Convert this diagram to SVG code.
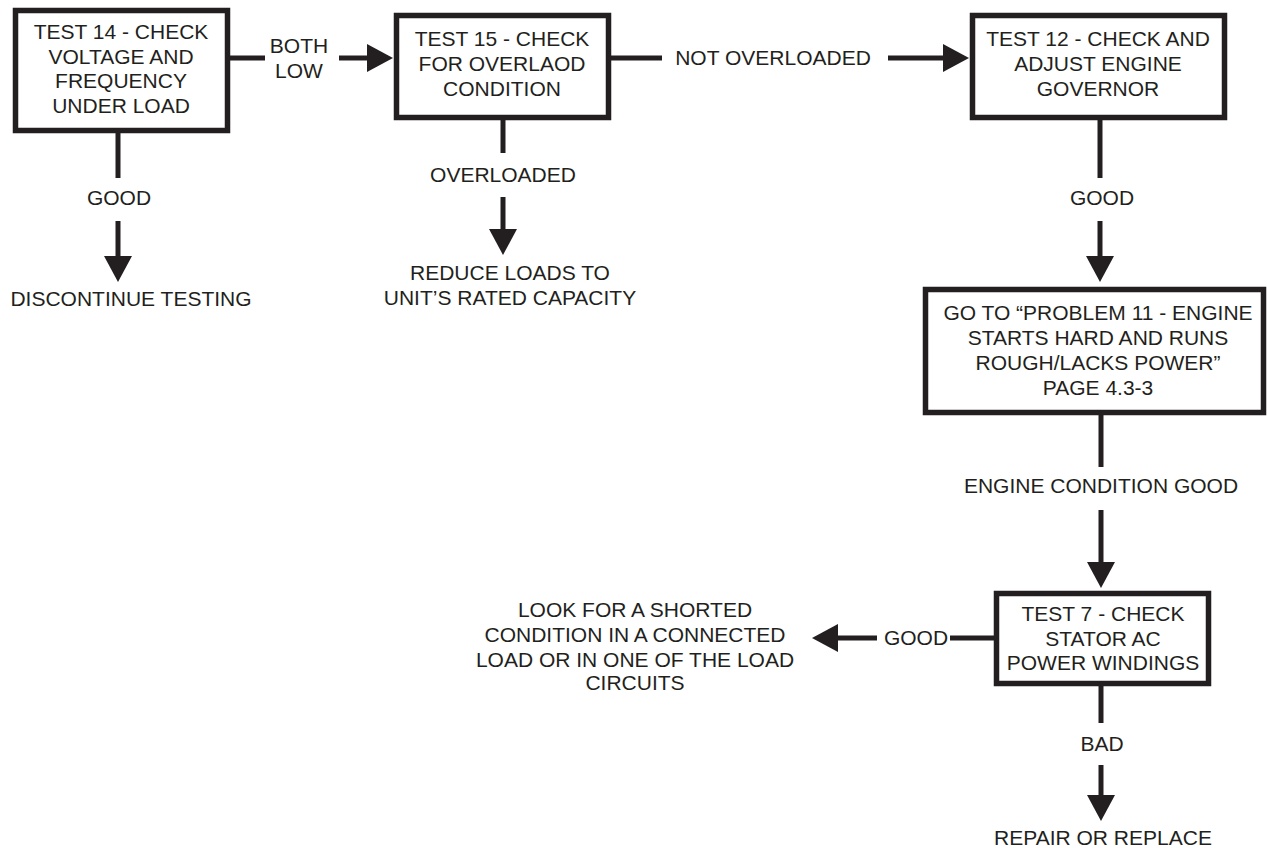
<svg xmlns="http://www.w3.org/2000/svg" width="1267" height="848" viewBox="0 0 1267 848">
<style>
.box{fill:#fff;stroke:#231f20;stroke-width:5.5}
.ln{fill:none;stroke:#231f20;stroke-width:5}
text{font-family:"Liberation Sans",Arial,sans-serif;font-size:21px;fill:#231f20;text-anchor:middle}
</style>
<defs>
<marker id="ah" markerUnits="userSpaceOnUse" markerWidth="28" markerHeight="28" refX="0" refY="14" orient="auto" viewBox="0 0 28 28">
<path d="M0,0 L26,14 L0,28 z" fill="#231f20"/>
</marker>
</defs>
<rect width="1267" height="848" fill="#fff"/>
<g id="connectors">
<path class="ln" d="M230,58 H265"/>
<path class="ln" d="M339,58 H367" marker-end="url(#ah)"/>
<text x="299" y="53">BOTH</text><text x="299" y="78">LOW</text>
<path class="ln" d="M118,133 V178"/>
<path class="ln" d="M118,221 V256" marker-end="url(#ah)"/>
<text x="119" y="205">GOOD</text>
<path class="ln" d="M611,58 H662"/>
<path class="ln" d="M888,58 H943" marker-end="url(#ah)"/>
<text x="773" y="65">NOT OVERLOADED</text>
<path class="ln" d="M503,120 V153"/>
<path class="ln" d="M503,197 V229" marker-end="url(#ah)"/>
<text x="503" y="182">OVERLOADED</text>
<path class="ln" d="M1100,120 V178"/>
<path class="ln" d="M1100,221 V256" marker-end="url(#ah)"/>
<text x="1102" y="205">GOOD</text>
<path class="ln" d="M1101,415 V467"/>
<path class="ln" d="M1101,510 V562" marker-end="url(#ah)"/>
<text x="1101" y="493">ENGINE CONDITION GOOD</text>
<path class="ln" d="M994,638 H950"/>
<path class="ln" d="M877,638 H838" marker-end="url(#ah)"/>
<text x="916" y="645">GOOD</text>
<path class="ln" d="M1101,686 V723"/>
<path class="ln" d="M1101,765 V795" marker-end="url(#ah)"/>
<text x="1102" y="751">BAD</text>
</g>
<g id="test14">
<rect class="box" x="15.5" y="10.5" width="212" height="120"/>
<text x="121" y="39">TEST 14 - CHECK</text>
<text x="121" y="63.5">VOLTAGE AND</text>
<text x="121" y="88">FREQUENCY</text>
<text x="121" y="112.5">UNDER LOAD</text>
</g>
<g id="discontinue">
<text x="131" y="306">DISCONTINUE TESTING</text>
</g>
<g id="test15">
<rect class="box" x="396.5" y="15.5" width="212" height="102"/>
<text x="502" y="46">TEST 15 - CHECK</text>
<text x="502" y="71">FOR OVERLAOD</text>
<text x="502" y="96">CONDITION</text>
</g>
<g id="reduce">
<text x="510" y="280">REDUCE LOADS TO</text>
<text x="510" y="305">UNIT’S RATED CAPACITY</text>
</g>
<g id="test12">
<rect class="box" x="972.5" y="15.5" width="252" height="102"/>
<text x="1098" y="46">TEST 12 - CHECK AND</text>
<text x="1098" y="71">ADJUST ENGINE</text>
<text x="1098" y="96">GOVERNOR</text>
</g>
<g id="problem11">
<rect class="box" x="925.5" y="289.5" width="338" height="123"/>
<text x="1098" y="320">GO TO “PROBLEM 11 - ENGINE</text>
<text x="1098" y="345">STARTS HARD AND RUNS</text>
<text x="1098" y="370">ROUGH/LACKS POWER”</text>
<text x="1098" y="395">PAGE 4.3-3</text>
</g>
<g id="test7">
<rect class="box" x="996.5" y="593.5" width="212" height="90"/>
<text x="1103" y="621">TEST 7 - CHECK</text>
<text x="1103" y="646">STATOR AC</text>
<text x="1103" y="670">POWER WINDINGS</text>
</g>
<g id="lookfor">
<text x="635" y="617">LOOK FOR A SHORTED</text>
<text x="635" y="642">CONDITION IN A CONNECTED</text>
<text x="635" y="667">LOAD OR IN ONE OF THE LOAD</text>
<text x="635" y="690">CIRCUITS</text>
</g>
<g id="repair">
<text x="1103" y="845">REPAIR OR REPLACE</text>
</g>
</svg>
